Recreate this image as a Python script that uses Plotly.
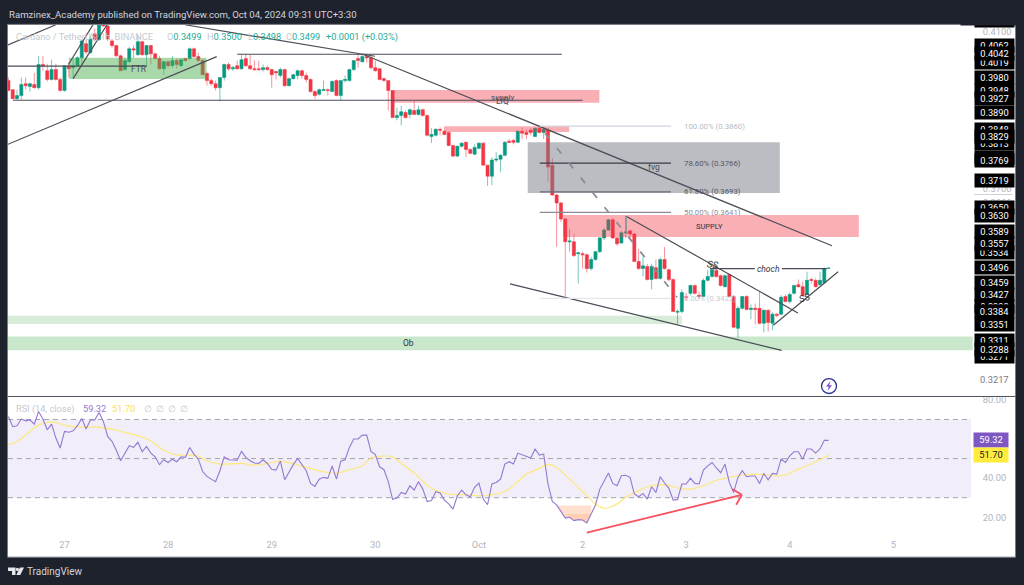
import plotly.graph_objects as go

W, H = 1024, 585
FONT = "Roboto"
DARK = "#1e222d"

# hours since 27 Sep 00:00 (1h bars)
hours = list(range(-13, 178))
open_ = [
 .3976,.3953,.3930,.3938,.3968,.3961,.3966,.3958,.4017,.4001,
 .3979,.4004,.3979,.3951,.4014,.4009,.4014,.4034,.4070,.4047,
 .4095,.4080,.4128,.4115,.4077,.4065,.4039,.4004,.4024,.4057,
 .4042,.4075,.4042,.4065,.4044,.4032,.4006,.4024,.4014,.4027,
 .4014,.4032,.4032,.4057,.4037,.4027,.3994,.3976,.3968,.3958,
 .3984,.4017,.4006,.4014,.4006,.4032,.4014,.4006,.4006,.4004,
 .4009,.4004,.3999,.3989,.4004,.3963,.3981,.3989,.4001,.3989,
 .3979,.3948,.3941,.3951,.3953,.3948,.3976,.3938,.3976,.3976,
 .4004,.4032,.4024,.4037,.4034,.4009,.4006,.3981,.3976,.3951,
 .3882,.3887,.3895,.3890,.3900,.3890,.3902,.3887,.3834,.3837,
 .3852,.3847,.3844,.3811,.3784,.3809,.3819,.3801,.3789,.3804,
 .3817,.3761,.3733,.3774,.3776,.3786,.3822,.3824,.3819,.3847,
 .3844,.3850,.3834,.3855,.3844,.3850,.3761,.3685,.3665,.3624,
 .3566,.3566,.3536,.3536,.3533,.3498,.3521,.3541,.3576,.3596,
 .3622,.3576,.3563,.3589,.3594,.3586,.3516,.3498,.3503,.3470,
 .3500,.3473,.3521,.3495,.3470,.3387,.3389,.3427,.3435,.3455,
 .3430,.3427,.3468,.3478,.3493,.3480,.3452,.3483,.3427,.3346,
 .3397,.3427,.3394,.3397,.3397,.3359,.3392,.3359,.3382,.3382,
 .3427,.3414,.3435,.3457,.3452,.3432,.3470,.3468,.3457,.3462,.3499]
high = [
 .3984,.3953,.3953,.3984,.3984,.3971,.3996,.4039,.4039,.4019,
 .4029,.4019,.3984,.4014,.4022,.4034,.4037,.4080,.4080,.4090,
 .4108,.4138,.4138,.4120,.4082,.4067,.4042,.4034,.4062,.4065,
 .4090,.4077,.4067,.4067,.4047,.4039,.4027,.4027,.4039,.4032,
 .4032,.4034,.4060,.4060,.4047,.4032,.3999,.3981,.3976,.3984,
 .4019,.4022,.4014,.4027,.4042,.4044,.4042,.4027,.4027,.4017,
 .4014,.4006,.4001,.4009,.4006,.3984,.3994,.4004,.4004,.3996,
 .3981,.3951,.3956,.3976,.3956,.3976,.3979,.3976,.3989,.4006,
 .4027,.4042,.4042,.4044,.4042,.4027,.4009,.3984,.3976,.3951,
 .3907,.3912,.3900,.3905,.3925,.3912,.3905,.3890,.3855,.3855,
 .3857,.3850,.3847,.3811,.3811,.3819,.3822,.3804,.3814,.3819,
 .3819,.3761,.3781,.3794,.3789,.3822,.3827,.3827,.3850,.3857,
 .3852,.3855,.3857,.3857,.3857,.3855,.3779,.3688,.3667,.3627,
 .3599,.3586,.3541,.3541,.3536,.3528,.3543,.3578,.3601,.3624,
 .3627,.3578,.3594,.3632,.3596,.3589,.3548,.3528,.3510,.3510,
 .3521,.3526,.3553,.3498,.3473,.3394,.3445,.3435,.3457,.3457,
 .3440,.3473,.3495,.3498,.3498,.3483,.3483,.3485,.3430,.3402,
 .3427,.3430,.3407,.3409,.3440,.3394,.3394,.3387,.3384,.3430,
 .3432,.3437,.3457,.3470,.3465,.3490,.3475,.3473,.3490,.3501,.3500]
low = [
 .3951,.3928,.3928,.3928,.3953,.3948,.3956,.3953,.4001,.3974,
 .3976,.3976,.3948,.3948,.3984,.3981,.4011,.4014,.4042,.4044,
 .4077,.4077,.4113,.4077,.4060,.4037,.4001,.4001,.4022,.4034,
 .4039,.4039,.4014,.4017,.4029,.4004,.3991,.4009,.4009,.4006,
 .4011,.4024,.4029,.4034,.4024,.3991,.3963,.3963,.3951,.3923,
 .3976,.4001,.4001,.4004,.4004,.4011,.4004,.4001,.4001,.3999,
 .4001,.3958,.3979,.3984,.3961,.3961,.3979,.3979,.3981,.3971,
 .3946,.3930,.3938,.3951,.3938,.3948,.3936,.3925,.3971,.3974,
 .4001,.4009,.4022,.4022,.4004,.3999,.3976,.3974,.3900,.3882,
 .3875,.3862,.3880,.3880,.3890,.3887,.3885,.3834,.3817,.3834,
 .3837,.3837,.3809,.3781,.3781,.3806,.3781,.3789,.3786,.3801,
 .3761,.3708,.3710,.3769,.3743,.3784,.3817,.3814,.3817,.3827,
 .3827,.3837,.3832,.3842,.3827,.3718,.3683,.3553,.3617,.3427,
 .3541,.3528,.3460,.3498,.3488,.3493,.3518,.3538,.3571,.3594,
 .3573,.3556,.3561,.3576,.3576,.3516,.3495,.3478,.3468,.3445,
 .3470,.3470,.3495,.3465,.3387,.3356,.3384,.3417,.3430,.3432,
 .3420,.3425,.3465,.3475,.3475,.3452,.3450,.3425,.3346,.3321,
 .3394,.3392,.3369,.3356,.3356,.3336,.3338,.3341,.3374,.3379,
 .3412,.3409,.3432,.3450,.3427,.3430,.3460,.3450,.3455,.3460,.3498]
close = [
 .3951,.3930,.3938,.3966,.3963,.3968,.3958,.4017,.4014,.3979,
 .4004,.3979,.3951,.4014,.4006,.4014,.4034,.4077,.4049,.4082,
 .4080,.4128,.4115,.4082,.4065,.4039,.4001,.4027,.4057,.4054,
 .4075,.4042,.4065,.4044,.4032,.4006,.4024,.4014,.4027,.4017,
 .4029,.4027,.4057,.4037,.4027,.3991,.3976,.3968,.3958,.3984,
 .4017,.4006,.4009,.4006,.4029,.4014,.4006,.4004,.4004,.4009,
 .4004,.3991,.3996,.4004,.3963,.3981,.3991,.4001,.3989,.3979,
 .3948,.3938,.3953,.3953,.3951,.3974,.3938,.3976,.3979,.4004,
 .4027,.4027,.4037,.4034,.4009,.4001,.3979,.3976,.3951,.3882,
 .3887,.3897,.3882,.3902,.3890,.3902,.3887,.3837,.3839,.3852,
 .3850,.3839,.3811,.3784,.3809,.3817,.3801,.3791,.3806,.3817,
 .3761,.3733,.3774,.3776,.3786,.3819,.3819,.3819,.3847,.3842,
 .3839,.3844,.3855,.3844,.3852,.3756,.3685,.3665,.3624,.3566,
 .3568,.3531,.3538,.3533,.3498,.3521,.3541,.3576,.3596,.3622,
 .3576,.3561,.3589,.3591,.3586,.3516,.3498,.3505,.3470,.3503,
 .3473,.3521,.3498,.3470,.3389,.3389,.3437,.3425,.3455,.3435,
 .3427,.3468,.3478,.3495,.3478,.3455,.3480,.3427,.3349,.3397,
 .3427,.3394,.3397,.3394,.3359,.3392,.3361,.3382,.3379,.3425,
 .3414,.3432,.3455,.3452,.3430,.3468,.3468,.3452,.3468,.3498,.3499]

rsi = [
 71.5,66.3,66.8,70.2,69.3,69.8,67.6,74.1,70.2,64.7,67.6,60.5,55.4,63.9,63.5,64.2,66.8,70.5,65.1,69.7,
 69.7,73.6,69.0,61.3,58.8,54.3,48.9,52.8,56.6,55.7,58.3,53.5,56.2,52.8,50.9,46.9,49.4,48.0,49.7,48.4,
 50.9,50.6,55.7,52.3,49.7,43.4,40.9,39.5,38.2,43.8,50.9,49.4,49.2,49.2,53.7,50.6,48.9,47.7,47.5,49.4,
 47.5,44.5,44.1,48.7,39.2,43.3,46.9,50.1,46.7,43.8,37.3,35.8,39.5,40.4,39.9,46.2,39.5,48.7,49.4,55.7,
 60.0,60.0,62.0,62.0,53.7,52.0,45.8,44.3,38.2,29.2,29.8,32.7,31.9,36.1,33.9,38.2,34.4,28.0,28.5,33.1,
 32.4,28.8,26.8,24.2,31.0,33.9,31.5,30.5,35.3,37.5,29.3,26.4,37.0,37.8,
 39.5,47.2,48.4,47.2,52.8,52.0,50.9,50.3,54.9,51.8,52.3,37.0,28.1,26.3,23.0,19.6,20.0,18.3,18.8,18.6,
 17.1,21.7,26.3,34.4,38.2,42.6,37.3,36.1,41.2,41.5,40.4,31.9,30.5,32.2,29.3,35.6,32.7,40.7,37.5,34.8,
 28.8,29.0,37.0,37.0,40.0,37.3,37.0,44.1,46.3,48.0,45.2,42.8,47.2,37.8,32.7,40.4,43.8,40.7,41.1,41.1,
 37.3,42.4,39.2,42.4,42.1,49.7,48.0,51.4,53.5,53.5,49.7,54.9,54.9,52.8,54.9,59.4,59.32]
assert len(open_) == len(high) == len(low) == len(close) == len(hours) == len(rsi)

rsi_ma_hours = [-13,-11,-9,-7,-5,-3,-1,1,4,8,11,14,17,20,22,24,26,28,31,33,36,41,44,47,50,53,56,60,63,66,69,71,74,76,78,81,85,89,93,97,101,
 103,105,107,110,112,114,117,121,123,125,128,130,133,136,139,141,144,146,149,151,153,157,160,163,165,167,170,172,174,177]
rsi_ma = [57.1,58.6,62.0,65.9,68.0,68.8,67.8,66.6,66.1,66.1,65.1,63.4,61.7,59.1,55.7,53.2,51.8,51.8,51.1,48.9,47.2,47.5,46.7,47.5,48.6,47.5,45.5,43.3,42.6,44.3,46.3,50.3,51.3,50.9,47.5,42.6,34.8,31.9,31.5,31.0,32.4,
 34.4,38.2,42.1,45.0,47.0,45.3,39.5,31.0,26.8,24.6,26.8,30.2,33.6,36.1,36.6,35.6,34.3,34.8,37.0,38.9,39.9,41.6,42.1,41.6,41.1,41.6,44.6,46.3,48.4,51.7]

x_tick_hours = [0, 24, 48, 72, 96, 120, 144, 168, 192]
x_tick_text = ["27", "28", "29", "30", "Oct", "2", "3", "4", "5"]
price_ticks = [0.4100, 0.3700, 0.3666]
rsi_ticks = [80, 40, 20]
labels_partial = ["0.4062","0.4019","0.3948","0.3848","0.3813","0.3777","0.3650","0.3534","0.3398","0.3311","0.3271"]
labels_full = ["0.4042","0.3980","0.3927","0.3890","0.3829","0.3769","0.3719","0.3630","0.3589","0.3557",
               "0.3496","0.3459","0.3427","0.3384","0.3351","0.3288"]

# user drawings in (hour, price)
trend_lines = [
 (-13.1,.4067,-2,.4118), (-13.1,.3814,35.25,.4037), (.9,.4017,6.6,.4118), (2,.3981,9.85,.4118),
 (-13.1,.4013,19.1,.4013), (-11.9,.3926,120,.3926), (40,.4043,115.2,.4043),
 (27.9,.4118,71.9,.4038), (69.1,.4043,177.8,.3556), (130.1,.3631,169.9,.3385),
 (103.2,.3459,166.1,.3290), (164.2,.3354,179.2,.3490),
 (149.5,.3498,159.9,.3498), (166.2,.3498,176.6,.3498),
]
zones = [
 (1.04,.4034,32.9,.3980,"rgba(76,175,80,0.48)"),
 (76.2,.3952,123.9,.3920,"rgba(242,54,69,0.4)"),
 (87.9,.3860,116.9,.3845,"rgba(242,54,69,0.4)"),
 (107.3,.3819,165.7,.3690,"rgba(120,123,134,0.5)"),
 (115.5,.3634,184,.3578,"rgba(242,54,69,0.4)"),
 (-13.1,.3378,143,.3357,"rgba(76,175,80,0.22)"),
 (-13.1,.3325,210.4,.3290,"rgba(76,175,80,0.3)"),
]
fib_levels = [(.3860,"100.00% (0.3860)","#d1d4dc","#b8bbc4"),(.3766,"78.60% (0.3766)","#3a3d46","#555862"),
              (.3693,"61.80% (0.3693)","#6a6d78","#555862"),(.3641,"50.00% (0.3641)","#8a8d96","#8a8d96"),
              (.3422,"0.00% (0.3422)","#e4e6ec","#c8cad2")]
zone_texts = [(17.3,.4006,"FTR",8.5),(101.5,.3934,"supply",8),(101.5,.3923,"LIQ",8.5),(136.5,.3757,"fvg",8.5),(149.5,.3605,"SUPPLY",7.5),(79.6,.3308,"Ob",8.5)]

def px(x): return x / W
def py(y): return 1 - y / H

fig = go.Figure()
fig.add_trace(go.Candlestick(
    x=hours, open=open_, high=high, low=low, close=close, xaxis="x", yaxis="y",
    increasing=dict(line=dict(color="rgba(8,153,129,0.55)", width=1), fillcolor="#089981"),
    decreasing=dict(line=dict(color="rgba(242,54,69,0.55)", width=1), fillcolor="#f23645"),
    whiskerwidth=0, showlegend=False, hoverinfo="skip"))

# RSI oversold fills
sel = [i for i, h in enumerate(hours) if 114 <= h <= 122]
fig.add_trace(go.Scatter(x=[hours[i] for i in sel], y=[26.0]*len(sel), xaxis="x2", yaxis="y2", mode="lines",
                         line=dict(width=0), showlegend=False, hoverinfo="skip"))
fig.add_trace(go.Scatter(x=[hours[i] for i in sel], y=[min(rsi[i], 26.0) for i in sel], xaxis="x2", yaxis="y2", mode="lines",
                         line=dict(width=0), fill="tonexty", fillcolor="rgba(255,180,140,0.42)", showlegend=False, hoverinfo="skip"))
sel2 = [i for i in sel if rsi[i] <= 21.7]
fig.add_trace(go.Scatter(x=[hours[i] for i in sel2], y=[21.7]*len(sel2), xaxis="x2", yaxis="y2", mode="lines",
                         line=dict(width=0), showlegend=False, hoverinfo="skip"))
fig.add_trace(go.Scatter(x=[hours[i] for i in sel2], y=[rsi[i] for i in sel2], xaxis="x2", yaxis="y2", mode="lines",
                         line=dict(width=0), fill="tonexty", fillcolor="rgba(255,170,120,0.3)", showlegend=False, hoverinfo="skip"))

fig.add_trace(go.Scatter(x=rsi_ma_hours, y=rsi_ma, xaxis="x2", yaxis="y2", mode="lines",
                         line=dict(color="#fde97a", width=1.2, shape="spline"), showlegend=False, hoverinfo="skip"))
fig.add_trace(go.Scatter(x=hours, y=rsi, xaxis="x2", yaxis="y2", mode="lines",
                         line=dict(color="#9478d2", width=1.1), showlegend=False, hoverinfo="skip"))

shapes = []
# white chart area
shapes.append(dict(type="rect", xref="paper", yref="paper", x0=px(7.5), x1=px(1015.5), y0=py(557), y1=py(21.5),
                   fillcolor="white", line=dict(color="#787b86", width=1), layer="below"))
# RSI band
shapes.append(dict(type="rect", xref="x2", yref="y2", x0=-13.1, x1=210, y0=30, y1=70, fillcolor="#f1edf9", line=dict(width=0), layer="below"))
for lv in (70, 50, 30):
    shapes.append(dict(type="line", xref="x2", yref="y2", x0=-13.1, x1=210, y0=lv, y1=lv,
                       line=dict(color="#a2a4ac", width=1, dash="5px,4px"), layer="below"))
for x0, p0, x1, p1, col in zones:
    shapes.append(dict(type="rect", xref="x", yref="y", x0=x0, x1=x1, y0=p0, y1=p1, fillcolor=col, line=dict(width=0)))
for x0, p0, x1, p1 in trend_lines:
    shapes.append(dict(type="line", xref="x", yref="y", x0=x0, x1=x1, y0=p0, y1=p1, line=dict(color="#4a4d57", width=1.2)))
shapes.append(dict(type="line", xref="x", yref="y", x0=130.1, x1=130.1, y0=.3632, y1=.3586, line=dict(color="#8a8d96", width=1.2)))
for p, txt, col, tcol in fib_levels:
    shapes.append(dict(type="line", xref="x", yref="y", x0=110.1, x1=140.5, y0=p, y1=p, line=dict(color=col, width=1.3)))
shapes.append(dict(type="line", xref="x", yref="y", x0=111.3, x1=141.9, y0=.3842, y1=.3425,
                   line=dict(color="#8a8d96", width=1.8, dash="7px,12px")))
# RSI arrow
arrow = [(121, 12.1, 156.9, 31.5), (154.7, 34.4, 156.9, 31.5), (155.6, 26.4, 156.9, 31.5)]
for x0, r0, x1, r1 in arrow:
    shapes.append(dict(type="line", xref="x2", yref="y2", x0=x0, x1=x1, y0=r0, y1=r1, line=dict(color="#f7525f", width=1.8)))
# separator + price-scale tick
shapes.append(dict(type="line", xref="paper", yref="paper", x0=px(8), x1=px(1015.5), y0=py(395.5), y1=py(395.5), line=dict(color="#50535e", width=1)))
shapes.append(dict(type="line", xref="paper", yref="paper", x0=px(974), x1=px(1012.5), y0=py(192.5), y1=py(192.5), line=dict(color="#cdd0da", width=1)))
# lightning badge
shapes.append(dict(type="circle", xref="paper", yref="paper", x0=px(821.5), x1=px(836.5), y0=py(392.5), y1=py(377.5),
                   fillcolor="white", line=dict(color="#2a2e8f", width=1.3)))
def ppath(pts):
    return "M " + " L ".join(f"{px(a):.5f},{py(b):.5f}" for a, b in pts) + " Z"
shapes.append(dict(type="path", xref="paper", yref="paper", path=ppath([(830.5,380),(826,385.5),(828.8,385.5),(827.5,390),(832,384.2),(829.2,384.2)]),
                   fillcolor="#7a4fd6", line=dict(width=0)))
# TradingView logo
shapes.append(dict(type="path", xref="paper", yref="paper", path=ppath([(8,567.5),(15.5,567.5),(15.5,575),(12,575),(12,571),(8,571)]),
                   fillcolor="#e6e8ee", line=dict(width=0)))
shapes.append(dict(type="circle", xref="paper", yref="paper", x0=px(15.8), x1=px(19), y0=py(571), y1=py(567.7), fillcolor="#e6e8ee", line=dict(width=0)))
shapes.append(dict(type="path", xref="paper", yref="paper", path=ppath([(20,567.5),(24,567.5),(20.3,575),(16.3,575)]),
                   fillcolor="#e6e8ee", line=dict(width=0)))

ann = []
def note(x, y, text, color="#b2b5be", size=9.5, anchor="left", family=FONT, **kw):
    ann.append(dict(xref="paper", yref="paper", x=px(x), y=py(y), text=text, showarrow=False, xanchor=anchor, yanchor="middle",
                    font=dict(color=color, size=size, family=family), **kw))

def chart_text(xv, p, text, color, size=9.5, **kw):
    ann.append(dict(xref="x", yref="y", x=xv, y=p, text=text, showarrow=False, xanchor=kw.pop("anchor", "center"), yanchor="middle",
                    font=dict(color=color, size=size, family=FONT), **kw))

for xv, p, t, s in zone_texts:
    chart_text(xv, p, t, "#4a4d57" if t not in ("SUPPLY", "Ob") else "#2f3138", s)
for p, txt, col, tcol in fib_levels:
    chart_text(143.0, p, txt, tcol, 7.8, anchor="left")
chart_text(163, .3496, "<i>choch</i>", "#2f3138", 8.5)
chart_text(150.2, .3508, "<i>SS</i>", "#2f3138", 9.5, textangle=10)
chart_text(171.5, .3424, "<i>SS</i>", "#2f3138", 9.5, textangle=-15)

# legend rows
LS = 9.2
note(14, 34, "Cardano / TetherUS, 1h, BINANCE", "#c6c9d1", LS)
GRN = "#22ab94"
for x, l, v in [(165, "O", "0.3499"), (205, "H", "0.3500"), (246, "L", "0.3498"), (284, "C", "0.3499")]:
    note(x, 34, f'<span style="color:#c6c9d1">{l}</span><span style="color:{GRN}">{v}</span>', GRN, LS)
note(324, 34, "+0.0001 (+0.03%)", GRN, LS)
note(14, 408, "RSI (14, close)", "#c6c9d1", LS)
note(81, 408, "59.32", "#9478d2", LS)
note(110, 408, "51.70", "#fde047", LS)
for x in (142, 154, 166, 178):
    note(x, 408, "∅", "#c6c9d1", 9)

# price-scale black labels
def plabel(txt, yref="y", yv=None):
    ann.append(dict(xref="paper", yref=yref, x=px(973.7), y=float(txt) if yv is None else yv, text=txt, showarrow=False,
                    xanchor="left", yanchor="middle", width=39, height=13, borderpad=0, bgcolor="#000000", align="center", yshift=1.5,
                    font=dict(color="white", size=9.3, family=FONT)))
plabel("0.4125", "paper", py(19.5))
note(960, 10.75, " ", DARK, 9, bgcolor=DARK, width=64, height=21.5, borderpad=0)
for t in labels_partial:
    plabel(t)
for t in labels_full:
    plabel(t)
note(978, 378, "0.3217", "#787b86", 9.3)

# RSI value boxes
for val, bg, fg, w in [(59.32, "#7e57c2", "white", 34), (51.70, "#ffeb3b", "#131722", 34)]:
    ann.append(dict(xref="paper", yref="y2", x=px(972.5), y=val, text=f"{val:.2f}", showarrow=False, xanchor="left", yanchor="middle",
                    width=w, height=13.5, borderpad=0, bgcolor=bg, align="center", font=dict(color=fg, size=9.3, family=FONT)))

note(7, 12, "Ramzinex_Academy published on TradingView.com, Oct 04, 2024 09:31 UTC+3:30", "#d1d4dc", 9.6)
note(25, 571.5, "TradingView", "#d1d4dc", 10)

fig.update_layout(
    width=W, height=H, margin=dict(l=0, r=0, t=0, b=0),
    paper_bgcolor=DARK, plot_bgcolor="rgba(0,0,0,0)", showlegend=False,
    shapes=shapes, annotations=ann, dragmode=False, boxgap=0.15, boxgroupgap=0.15,
    xaxis=dict(domain=[px(8), px(973)], range=[-13.09, 210.45], showgrid=False, zeroline=False, showticklabels=False,
               ticks="", rangeslider=dict(visible=False), anchor="y", fixedrange=True),
    yaxis=dict(domain=[py(395), py(22)], range=[.3174, .41177], showgrid=False, zeroline=False, side="right", anchor="x",
               tickvals=price_ticks, ticktext=[f"{v:.4f}" for v in price_ticks], ticks="outside", ticklen=7, tickcolor="rgba(0,0,0,0)",
               tickfont=dict(color="#b2b5be", size=9.3, family=FONT), showline=False, fixedrange=True),
    xaxis2=dict(domain=[px(8), px(973)], range=[-13.09, 210.45], showgrid=False, zeroline=False, anchor="y2",
                tickvals=x_tick_hours, ticktext=x_tick_text, ticks="outside", ticklen=1, tickcolor="rgba(0,0,0,0)",
                tickfont=dict(color="#b2b5be", size=9.3, family=FONT), showline=False, fixedrange=True),
    yaxis2=dict(domain=[py(535), py(396)], range=[10.8, 81.5], showgrid=False, zeroline=False, side="right", anchor="x2",
                tickvals=rsi_ticks, ticktext=[f"{v:.2f}" for v in rsi_ticks], ticks="outside", ticklen=7, tickcolor="rgba(0,0,0,0)",
                tickfont=dict(color="#b2b5be", size=9.3, family=FONT), showline=False, fixedrange=True),
)

fig.write_html("out.html", config=dict(displayModeBar=False),
               post_script="document.body.style.margin='0';document.body.style.overflow='hidden';")
